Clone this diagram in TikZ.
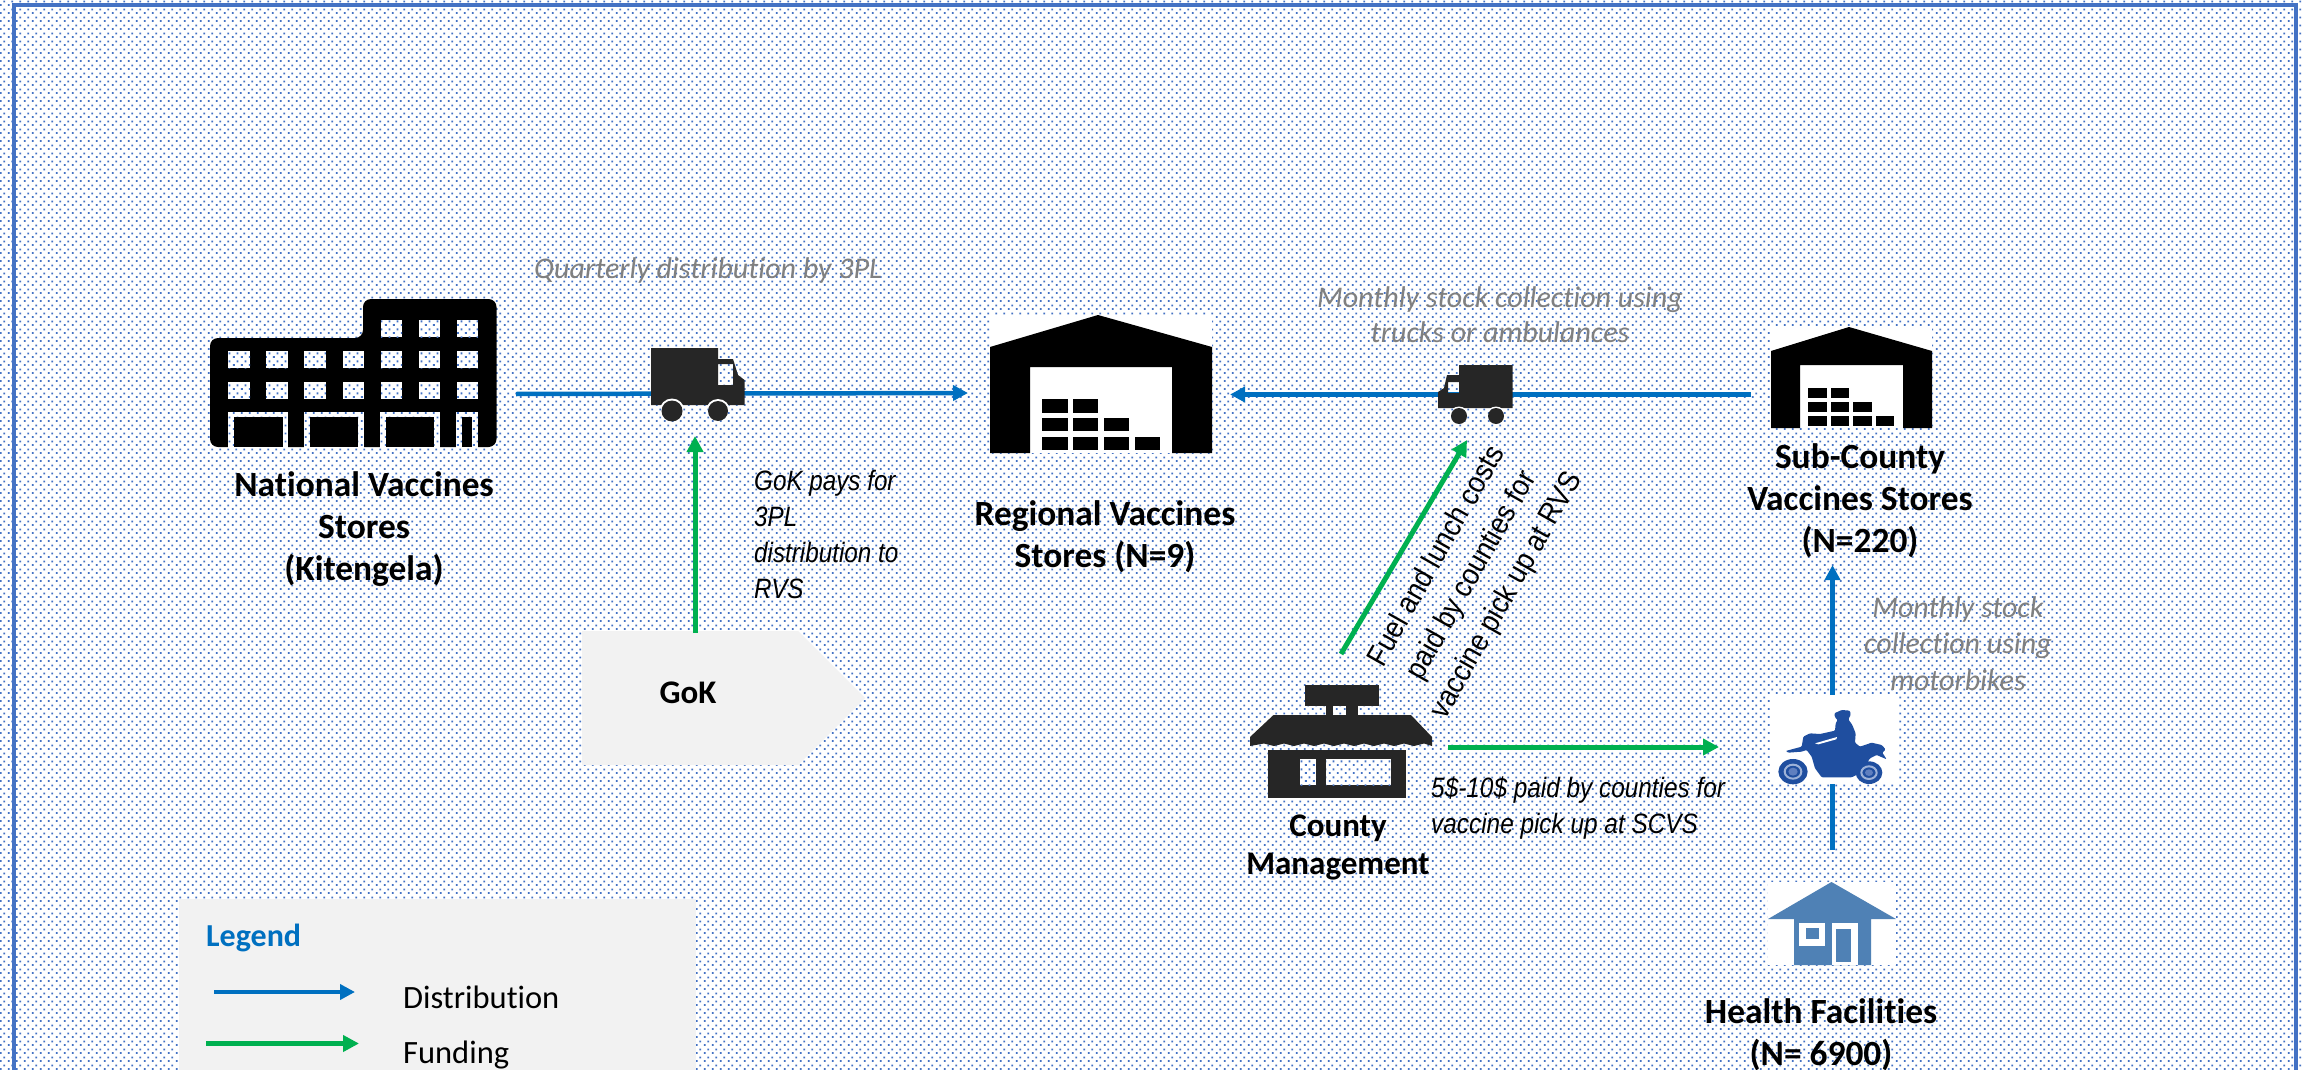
\documentclass[tikz,border=0pt]{standalone}
\usepackage{fontspec}
\usepackage{graphicx}
\setmainfont[Ligatures=NoCommon]{Carlito}
\newfontfamily\arialf{Liberation Sans}
\usetikzlibrary{arrows.meta,patterns}
\definecolor{framec}{HTML}{4472C4}
\definecolor{distc}{HTML}{0070C0}
\definecolor{fundc}{HTML}{00B050}
\definecolor{panelc}{HTML}{F2F2F2}
\definecolor{darkc}{HTML}{262626}
\definecolor{greyc}{HTML}{808080}
\definecolor{bikec}{HTML}{1F4E9F}
\definecolor{bikelt}{HTML}{9DB2D8}
\definecolor{bikemid}{HTML}{5F7FBF}
\definecolor{housec}{HTML}{4F81B5}
\pgfdeclarepatternformonly{dotgrid}{\pgfpointorigin}{\pgfqpoint{8pt}{8pt}}{\pgfqpoint{8pt}{8pt}}{%
  \pgfpathrectangle{\pgfqpoint{1pt}{0pt}}{\pgfqpoint{2pt}{2pt}}%
  \pgfpathrectangle{\pgfqpoint{5pt}{4pt}}{\pgfqpoint{2pt}{2pt}}%
  \pgfusepath{fill}}
\newcommand{\sqz}[2]{\scalebox{#1}[1]{#2}}
\tikzset{
  distarrow/.style={draw=distc,line width=4.5pt,-{Triangle[length=15pt,width=15pt]}},
  fundarrow/.style={draw=fundc,line width=5pt,-{Triangle[length=16pt,width=16pt]}},
  storelabel/.style={font=\fontsize{35.4}{42}\selectfont\bfseries,align=center,inner sep=0pt,text=black},
  noteg/.style={font=\fontsize{30}{36.5}\selectfont\itshape,align=center,inner sep=0pt,text=greyc},
  notek/.style={font=\arialf\fontsize{28}{36}\selectfont\itshape,inner sep=0pt,text=black},
  legtext/.style={font=\fontsize{32.5}{38}\selectfont,inner sep=0pt,anchor=west,text=black},
}
\begin{document}
\begin{tikzpicture}[x=1pt,y=-1pt]
\useasboundingbox (0,0) rectangle (2303,1070);
\clip (0,0) rectangle (2303,1070);
\fill[white] (0,0) rectangle (2303,1070);
\fill[pattern=dotgrid,pattern color=framec] (0,0) rectangle (2303,1070);
\draw[framec,line width=4pt] (14,5) rectangle (2296,1100);

% panels
\fill[panelc] (179,899) rectangle (696,1075);
\fill[panelc] (582,631) -- (798,631) -- (865,698) -- (798,765) -- (582,765) -- cycle;

% named connector ends
\coordinate (nvsout) at (516,394);
\coordinate (rvsinl) at (968,393);
\coordinate (scvsout) at (1751,394.5);
\coordinate (rvsinr) at (1230,394.5);
\coordinate (goktop) at (695,633);
\coordinate (truckone) at (695,436);
\coordinate (cmup) at (1341,654);
\coordinate (trucktwo) at (1467,440);
\coordinate (cmright) at (1448,747);
\coordinate (bikefund) at (1719,747);
\coordinate (hfout) at (1832.5,850);
\coordinate (scvsin) at (1832.5,565);
\coordinate (legdista) at (214,992);
\coordinate (legdistb) at (355,992);
\coordinate (legfunda) at (206,1043.5);
\coordinate (legfundb) at (359,1043.5);

% connectors
\draw[distarrow] (nvsout) -- (rvsinl);
\draw[distarrow] (scvsout) -- (rvsinr);
\draw[fundarrow] (goktop) -- (truckone);
\draw[fundarrow] (cmup) -- (trucktwo);
\draw[fundarrow] (cmright) -- (bikefund);
\draw[distarrow] (hfout) -- (scvsin);
\draw[distarrow] (legdista) -- (legdistb);
\draw[fundarrow] (legfunda) -- (legfundb);

% national store building
\fill[black,rounded corners=8pt]
  (210,447) -- (210,338) -- (363,338) -- (363,299) -- (496.5,299) -- (496.5,447) -- cycle;
\foreach \xa/\xb in {381/402,419/440,457/478}{
  \fill[white] (\xa,320) rectangle (\xb,337);
  \fill[pattern=dotgrid,pattern color=framec] (\xa,320) rectangle (\xb,337);}
\foreach \xa/\xb in {228/250,266/288,304/326,343/364,381/402,419/440,457/478}{
  \fill[white] (\xa,351) rectangle (\xb,368);
  \fill[pattern=dotgrid,pattern color=framec] (\xa,351) rectangle (\xb,368);
  \fill[white] (\xa,382) rectangle (\xb,399);
  \fill[pattern=dotgrid,pattern color=framec] (\xa,382) rectangle (\xb,399);}
\foreach \xa/\xb/\ia/\ib in {228/288/234/283,304/364/310/358,380/440/386/434,456/478/462/472}{
  \fill[white] (\xa,412) rectangle (\xb,447.5);
  \fill[pattern=dotgrid,pattern color=framec] (\xa,412) rectangle (\xb,447.5);
  \fill[black] (\ia,417) rectangle (\ib,447);}

% truck one
\fill[darkc,even odd rule] (651,348) -- (718,348) -- (718,359) -- (733,359) -- (738,375) -- (744.5,380) -- (744.5,405) -- (651,405) -- cycle
  (718,364) rectangle (733,385);
\begin{scope}
\clip (655,396) rectangle (740,405);
\fill[white] (672,411) circle (12.5);
\fill[white] (718,411) circle (12);
\end{scope}
\fill[darkc] (672,411) circle (10.5);
\fill[darkc] (718,411) circle (10);

% regional store
\fill[white] (990,315) rectangle (1212,453);
\fill[black] (990,453) -- (990,347) -- (1098,315) -- (1212,347) -- (1212,453) -- (1172,453) -- (1172,367) -- (1030,367) -- (1030,453) -- cycle;
\foreach \xa/\xb in {1042/1067.5,1072.5/1098}{\fill[black] (\xa,399) rectangle (\xb,413);}
\foreach \xa/\xb in {1042/1067.5,1072.5/1098,1103.5/1129}{\fill[black] (\xa,418) rectangle (\xb,431);}
\foreach \xa/\xb in {1042/1067.5,1072.5/1098,1103.5/1129,1134.5/1160}{\fill[black] (\xa,437) rectangle (\xb,450);}

% truck two
\fill[darkc,even odd rule] (1512.5,365) -- (1459,365) -- (1459,375) -- (1447,375) -- (1444,388) -- (1438,392) -- (1438,408) -- (1512.5,408) -- cycle
  (1448,382) rectangle (1459,393);
\begin{scope}
\clip (1445,403) rectangle (1510,408);
\fill[white] (1459,416) circle (9.5);
\fill[white] (1496,416) circle (9.5);
\end{scope}
\fill[darkc] (1459,416) circle (8);
\fill[darkc] (1496,416) circle (8);

% sub-county store
\fill[white] (1771,327) rectangle (1932,428);
\fill[black] (1771,428) -- (1771,351) -- (1849,327) -- (1932,351) -- (1932,428) -- (1903,428) -- (1903,365) -- (1800,365) -- (1800,428) -- cycle;
\foreach \xa/\xb in {1808/1827,1831/1849}{\fill[black] (\xa,388) rectangle (\xb,398);}
\foreach \xa/\xb in {1808/1827,1831/1849,1853/1872}{\fill[black] (\xa,402) rectangle (\xb,412);}
\foreach \xa/\xb in {1808/1827,1831/1849,1853/1872,1876/1894}{\fill[black] (\xa,416) rectangle (\xb,426);}

% county management
\fill[darkc] (1305,685) rectangle (1379,706);
\fill[darkc] (1326,706) rectangle (1332.5,715);
\fill[darkc] (1346,706) rectangle (1358,715);
\fill[darkc] (1273.5,715) -- (1411,715) -- (1432,737) -- (1432,746) -- (1424,743.5) -- (1414,746) -- (1404,743.5) -- (1394,746) -- (1384,743.5) -- (1374,746) -- (1364,743.5) -- (1354,746) -- (1344,743.5) -- (1334,746) -- (1324,743.5) -- (1314,746) -- (1304,743.5) -- (1294,746) -- (1284,743.5) -- (1274,746) -- (1264,743.5) -- (1250,746) -- (1250,737) -- cycle;
\fill[darkc] (1268,750) rectangle (1406,798);
\fill[white] (1299.5,759) rectangle (1316,785);
\fill[pattern=dotgrid,pattern color=framec] (1299.5,759) rectangle (1316,785);
\fill[white] (1326,759) rectangle (1390.5,785);
\fill[pattern=dotgrid,pattern color=framec] (1326,759) rectangle (1390.5,785);

% motorbike
\fill[white] (1770,695) rectangle (1899,784);
\begin{scope}[shift={(1765,690)},x=0.3333pt,y=-0.3333pt]
\fill[bikec,rounded corners=1pt] (208,70) -- (230,60) -- (255,62) -- (257,75) -- (250,88) -- (262,105) -- (272,130) -- (270,158) -- (285,170) -- (320,158) -- (350,165) -- (362,178) -- (352,188) -- (365,208) -- (335,195) -- (315,205) -- (300,228) -- (285,250) -- (260,262) -- (170,262) -- (150,235) -- (140,200) -- (125,180) -- (110,185) -- (70,188) -- (62,183) -- (110,170) -- (115,140) -- (135,130) -- (165,132) -- (210,122) -- (212,100) -- (218,90) -- (210,82) -- cycle;
\fill[white] (150,160) -- (216,141) -- (214,148) -- (160,163) -- cycle;
\fill[bikec] (84,245) ellipse (44 and 38);
\draw[bikelt,line width=2pt] (84,245) ellipse (25 and 21);
\fill[bikemid] (84,245) ellipse (14 and 12);
\fill[bikec] (312,248) ellipse (40 and 34);
\draw[bikelt,line width=2pt] (312,248) ellipse (23 and 19);
\fill[bikemid] (312,248) ellipse (12 and 10);
\end{scope}

% health facility house
\fill[white] (1768,882) rectangle (1896,965);
\fill[housec] (1831.5,882) -- (1896,919) -- (1871,919) -- (1871,965) -- (1794,965) -- (1794,919) -- (1768,919) -- cycle;
\fill[white] (1799,923) rectangle (1825,946);
\fill[housec] (1806,928) rectangle (1819,939);
\fill[white] (1832,923) rectangle (1857.5,965);
\fill[housec] (1836,929) rectangle (1851,962);

% labels
\node[storelabel] (nvslabel) at (364,529) {National Vaccines\\Stores\\(Kitengela)};
\node[storelabel] (rvslabel) at (1105,537) {Regional Vaccines\\Stores (N=9)};
\node[storelabel] (scvslabel) at (1860,501) {Sub-County\\Vaccines Stores\\(N=220)};
\node[storelabel,font=\fontsize{33}{38}\selectfont\bfseries] (cmlabel) at (1338,847) {County\\Management};
\node[storelabel] (hflabel) at (1821,1035) {Health Facilities\\(N= 6900)};
\node[storelabel,font=\fontsize{33}{38}\selectfont\bfseries] (goklabel) at (688,693) {GoK};

\node[noteg] (qnote) at (708,271) {Quarterly distribution by 3PL};
\node[noteg,font=\fontsize{30}{35}\selectfont\itshape] (mnote) at (1500,314.5) {Monthly stock collection using\\trucks or ambulances};
\node[noteg] (bnote) at (1958,643.5) {Monthly stock\\collection using\\motorbikes};

\node[notek,anchor=west] (paynote) at (754,537) {\sqz{0.865}{\begin{tabular}{@{}l@{}}GoK pays for\\3PL\\distribution to\\RVS\end{tabular}}};
\node[notek,anchor=west] (scvsnote) at (1431,808) {\sqz{0.87}{\begin{tabular}{@{}l@{}}5\$-10\$ paid by counties for\\vaccine pick up at SCVS\end{tabular}}};
\node[notek,font=\arialf\fontsize{30}{40}\selectfont,rotate=60.5] (rvsnote) at (1472,576) {\sqz{0.9}{\begin{tabular}{@{}c@{}}Fuel and lunch costs\\paid by counties for\\vaccine pick up at RVS\end{tabular}}};

\node[font=\fontsize{32}{38}\selectfont\bfseries,text=distc,inner sep=0pt,anchor=west] (legtitle) at (206,938) {Legend};
\node[legtext] (legdist) at (403,997) {Distribution};
\node[legtext] (legfund) at (403,1055) {Funding};
\end{tikzpicture}
\end{document}
